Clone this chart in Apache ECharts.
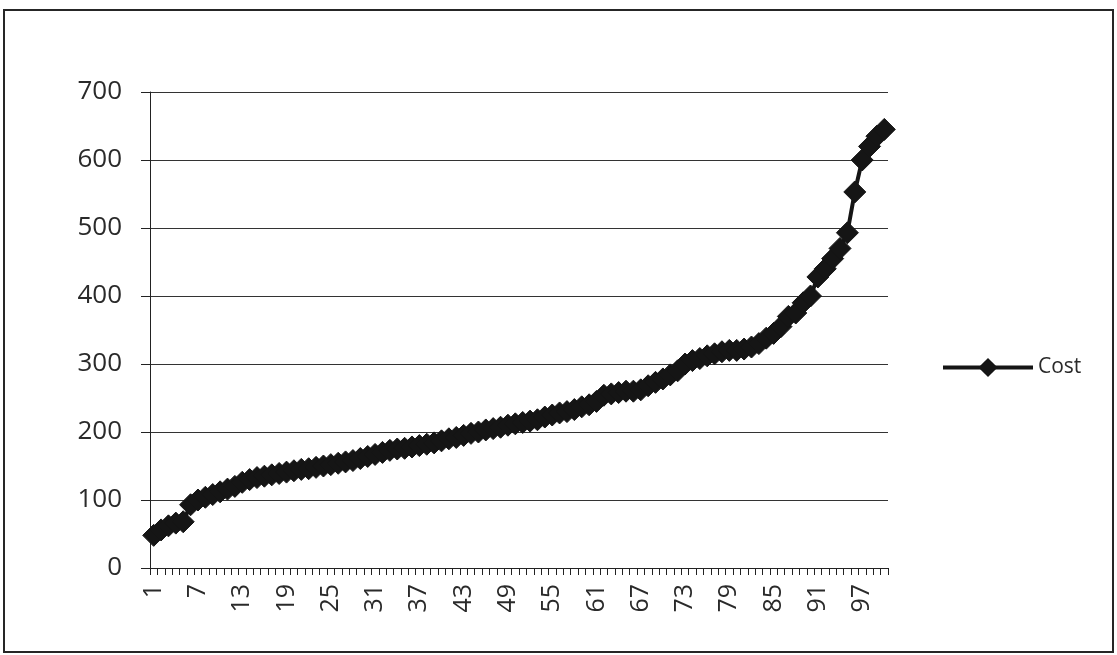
<!DOCTYPE html>
<html>
<head>
<meta charset="utf-8">
<title>Cost</title>
<script src="https://cdn.jsdelivr.net/npm/echarts@6/dist/echarts.min.js"></script>
<style>
  html, body { margin: 0; padding: 0; background: #ffffff; }
  #chart { width: 1117px; height: 655px; }
</style>
</head>
<body>
<div id="chart"></div>
<script>
// Item numbers along the horizontal axis
const categories = Array.from({ length: 100 }, (_, i) => String(i + 1));

// Cost per item, sorted ascending
const costValues = [
  48, 56, 62, 66, 68, 93, 100, 104, 108, 112,
  116, 120, 126, 130, 133, 135, 137, 139, 141, 143,
  145, 146, 148, 150, 152, 154, 156, 158, 161, 164,
  167, 170, 173, 175, 176, 178, 180, 182, 184, 187,
  190, 192, 195, 198, 200, 203, 205, 207, 210, 212,
  214, 216, 218, 222, 225, 228, 230, 233, 237, 240,
  245, 254, 256, 258, 260, 260, 262, 268, 273, 278,
  284, 290, 300, 305, 308, 312, 315, 318, 320, 320,
  322, 325, 330, 338, 345, 355, 370, 375, 390, 400,
  428, 440, 455, 470, 493, 553, 600, 620, 635, 645
];

const yTicks = { min: 0, max: 700, step: 100 };
const seriesName = 'Cost';

const chart = echarts.init(document.getElementById('chart'), null, { renderer: 'canvas' });

const labelFont = '"Open Sans", "Noto Sans", sans-serif';

chart.setOption({
  animation: false,
  backgroundColor: '#ffffff',
  graphic: [{
    type: 'rect',
    shape: { x: 4, y: 10, width: 1109, height: 642 },
    style: { fill: 'none', stroke: '#262626', lineWidth: 2 },
    silent: true
  }],
  grid: { left: 150, right: 229, top: 92, bottom: 87, containLabel: false },
  legend: {
    data: [seriesName],
    left: 936,
    top: 352,
    itemWidth: 90,
    itemHeight: 24,
    itemGap: 4,
    lineStyle: { width: 4 },
    textStyle: { fontFamily: labelFont, fontSize: 21, color: '#2a2a2a' }
  },
  xAxis: {
    type: 'category',
    data: categories,
    boundaryGap: true,
    axisLine: { show: true, lineStyle: { color: '#222222', width: 1 } },
    axisTick: { show: true, interval: 0, length: 7, lineStyle: { color: '#222222', width: 1 } },
    axisLabel: {
      interval: 5,
      rotate: 90,
      margin: 16,
      fontFamily: labelFont,
      fontSize: 25,
      color: '#2a2a2a'
    },
    splitLine: { show: false }
  },
  yAxis: {
    type: 'value',
    min: yTicks.min,
    max: yTicks.max,
    interval: yTicks.step,
    axisLine: { show: true, lineStyle: { color: '#222222', width: 1 } },
    axisTick: { show: true, length: 9, lineStyle: { color: '#222222', width: 1 } },
    axisLabel: {
      margin: 28,
      fontFamily: labelFont,
      fontSize: 26,
      color: '#2a2a2a'
    },
    splitLine: { show: true, lineStyle: { color: '#333333', width: 1 } }
  },
  series: [{
    name: seriesName,
    type: 'line',
    data: costValues,
    symbol: 'diamond',
    symbolSize: 22,
    showAllSymbol: true,
    lineStyle: { color: '#151515', width: 4 },
    itemStyle: { color: '#151515', borderColor: '#151515' }
  }]
});
</script>
</body>
</html>
